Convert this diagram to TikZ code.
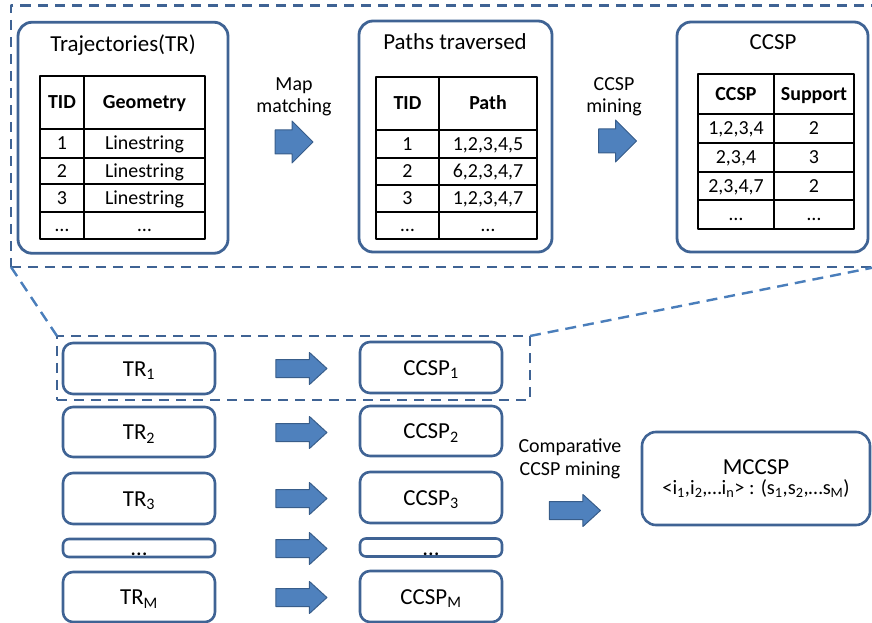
\documentclass[tikz,border=0pt]{standalone}
\usepackage{fontspec}
\setmainfont{Carlito}
\usetikzlibrary{shapes.arrows}
\definecolor{boxblue}{HTML}{3F6394}
\definecolor{zoomblue}{HTML}{4A7EBB}
\definecolor{arrowblue}{HTML}{4F81BD}
\definecolor{arrowedge}{HTML}{385D8A}
\newcommand{\fsz}[2]{\fontsize{#1}{#2}\selectfont}

\begin{document}
\begin{tikzpicture}[x=1bp, y=-1bp, line join=round, line cap=round,
		panel/.style={draw=boxblue, line width=2.8bp, rounded corners=14bp, inner sep=0pt, outer sep=0pt},
		slot/.style={draw=boxblue, line width=2.6bp, rounded corners=10bp, inner sep=0pt, font=\fsz{23}{23}, text height=15bp, text depth=0pt},
		heading/.style={font=\fsz{23}{23}, text height=15bp, text depth=0pt, inner sep=0pt},
		note/.style={font=\fsz{20}{22}, align=center, inner sep=0pt},
		cell/.style={font=\fsz{20}{20}, text height=13bp, text depth=0pt, inner sep=0pt},
		headcell/.style={cell, font=\fsz{20}{20}\bfseries},
		tabline/.style={line width=1.1bp, line cap=rect},
		dashframe/.style={draw=boxblue, line width=2.2bp, line cap=butt, dash pattern=on 10bp off 7bp, inner sep=0pt, outer sep=0pt},
		zoomline/.style={draw=zoomblue, line width=2.4bp, line cap=butt, dash pattern=on 11bp off 7bp},
		blockarrow/.style={single arrow, draw=arrowedge, fill=arrowblue, line width=1bp, inner xsep=0pt, inner ysep=8.5bp, single arrow head extend=7bp, single arrow tip angle=85, minimum height=51bp},
		toparrow/.style={blockarrow, inner ysep=11.5bp, single arrow head extend=9bp, single arrow tip angle=90, minimum height=38bp}]
	\useasboundingbox (0,0) rectangle (872,623);
	\clip (0,0) rectangle (872,623);
	% khung net dut
	\node[dashframe, minimum width=865bp, minimum height=261.5bp] (bigframe) at (443.5,136.25) {};
	\node[dashframe, minimum width=473bp, minimum height=64bp] (zoomframe) at (293.5,368) {};
	\draw[zoomline] (bigframe.south west) -- (zoomframe.north west);
	\draw[zoomline] (zoomframe.north east) -- (bigframe.south east);
	% ba bang phia tren
	\node[panel, minimum width=210bp, minimum height=231bp] (trpanel) at (123,137.75) {};
	\node[panel, minimum width=193bp, minimum height=231bp] (pathpanel) at (455.5,136.5) {};
	\node[panel, minimum width=191bp, minimum height=230bp] (ccsppanel) at (772.5,137) {};
	\node[heading] (trtitle) at (123,44) {Trajectories(TR)};
	\node[heading] (pathtitle) at (455,42) {Paths traversed};
	\node[heading] (ccsptitle) at (773,42) {CCSP};
	% bang 1
	\draw[tabline] (40,76) rectangle (205,239) (84,76) -- (84,239);
	\foreach \y in {129,158,184,212} \draw[tabline] (40,\y) -- (205,\y);
	\node[headcell] (tra0) at (62,102.5) {TID};
	\node[headcell] (trb0) at (144.5,102.5) {Geometry};
	\foreach \y/\a/\b [count=\i] in {143.5/1/Linestring, 171/2/Linestring, 198/3/Linestring, 225.5/…/…}{
		\node[cell] (tra\i) at (62,\y) {\a};
		\node[cell] (trb\i) at (144.5,\y) {\b};
	}
	% bang 2
	\draw[tabline] (376,77) rectangle (537,239) (439,77) -- (439,239);
	\foreach \y in {130,158,185,212} \draw[tabline] (376,\y) -- (537,\y);
	\node[headcell] (pta0) at (407.5,103.5) {TID};
	\node[headcell] (ptb0) at (488,103.5) {Path};
	\foreach \y/\a/\b [count=\i] in {144/1/{1,2,3,4,5}, 171.5/2/{6,2,3,4,7}, 198.5/3/{1,2,3,4,7}, 225.5/…/…}{
		\node[cell] (pta\i) at (407.5,\y) {\a};
		\node[cell] (ptb\i) at (488,\y) {\b};
	}
	% bang 3
	\draw[tabline] (698,74) rectangle (854,229) (774,74) -- (774,229);
	\foreach \y in {114,143,172,200} \draw[tabline] (698,\y) -- (854,\y);
	\node[headcell] (csa0) at (736,94) {CCSP};
	\node[headcell] (csb0) at (814,94) {Support};
	\foreach \y/\a/\b [count=\i] in {128.5/{1,2,3,4}/2, 157.5/{2,3,4}/3, 186/{2,3,4,7}/2, 214.5/…/…}{
		\node[cell] (csa\i) at (736,\y) {\a};
		\node[cell] (csb\i) at (814,\y) {\b};
	}
	% mui ten phia tren
	\node[note] (mapnote) at (294,97) {Map\\matching};
	\node[toparrow] (maparrow) at (288,142) {};
	\node[note] (miningnote) at (614,97) {CCSP\\mining};
	\node[toparrow] (miningarrow) at (611.5,141) {};
	% phan duoi
	\node[slot, minimum width=152bp, minimum height=51bp] (tr1) at (139,368.5) {TR\textsubscript{1}};
	\node[slot, minimum width=152bp, minimum height=50bp] (tr2) at (139,432) {TR\textsubscript{2}};
	\node[slot, minimum width=152bp, minimum height=51bp] (tr3) at (139,498.5) {TR\textsubscript{3}};
	\node[slot, minimum width=152bp, minimum height=18bp, rounded corners=6bp] (trdots) at (139,548) {…};
	\node[slot, minimum width=152bp, minimum height=50bp] (trm) at (139,597) {TR\textsubscript{M}};
	\node[slot, minimum width=142bp, minimum height=51bp] (ccsp1) at (431,367.5) {CCSP\textsubscript{1}};
	\node[slot, minimum width=142bp, minimum height=50bp] (ccsp2) at (431,431) {CCSP\textsubscript{2}};
	\node[slot, minimum width=142bp, minimum height=51bp] (ccsp3) at (431,497.5) {CCSP\textsubscript{3}};
	\node[slot, minimum width=142bp, minimum height=18bp, rounded corners=6bp] (ccspdots) at (431,547.5) {…};
	\node[slot, minimum width=142bp, minimum height=51bp] (ccspm) at (431,596.5) {CCSP\textsubscript{M}};
	\foreach \y [count=\i] in {368.5,432.5,498.5,548.5,597.5}
		\node[blockarrow] (arr\i) at (296.5,\y) {};
	\node[note, font=\fsz{20}{23}] (compnote) at (570,459) {Comparative\\CCSP mining};
	\node[blockarrow] (comparrow) at (570,510.5) {};
	\node[panel, line width=2.6bp, minimum width=228bp, minimum height=93bp, align=center, font=\fsz{23}{20}] (mccsp) at (756,478.5)
		{MCCSP\\{\fsz{20.5}{20}<i\textsubscript{1},i\textsubscript{2},…i\textsubscript{n}> : (s\textsubscript{1},s\textsubscript{2},…s\textsubscript{M})}};
\end{tikzpicture}
\end{document}
